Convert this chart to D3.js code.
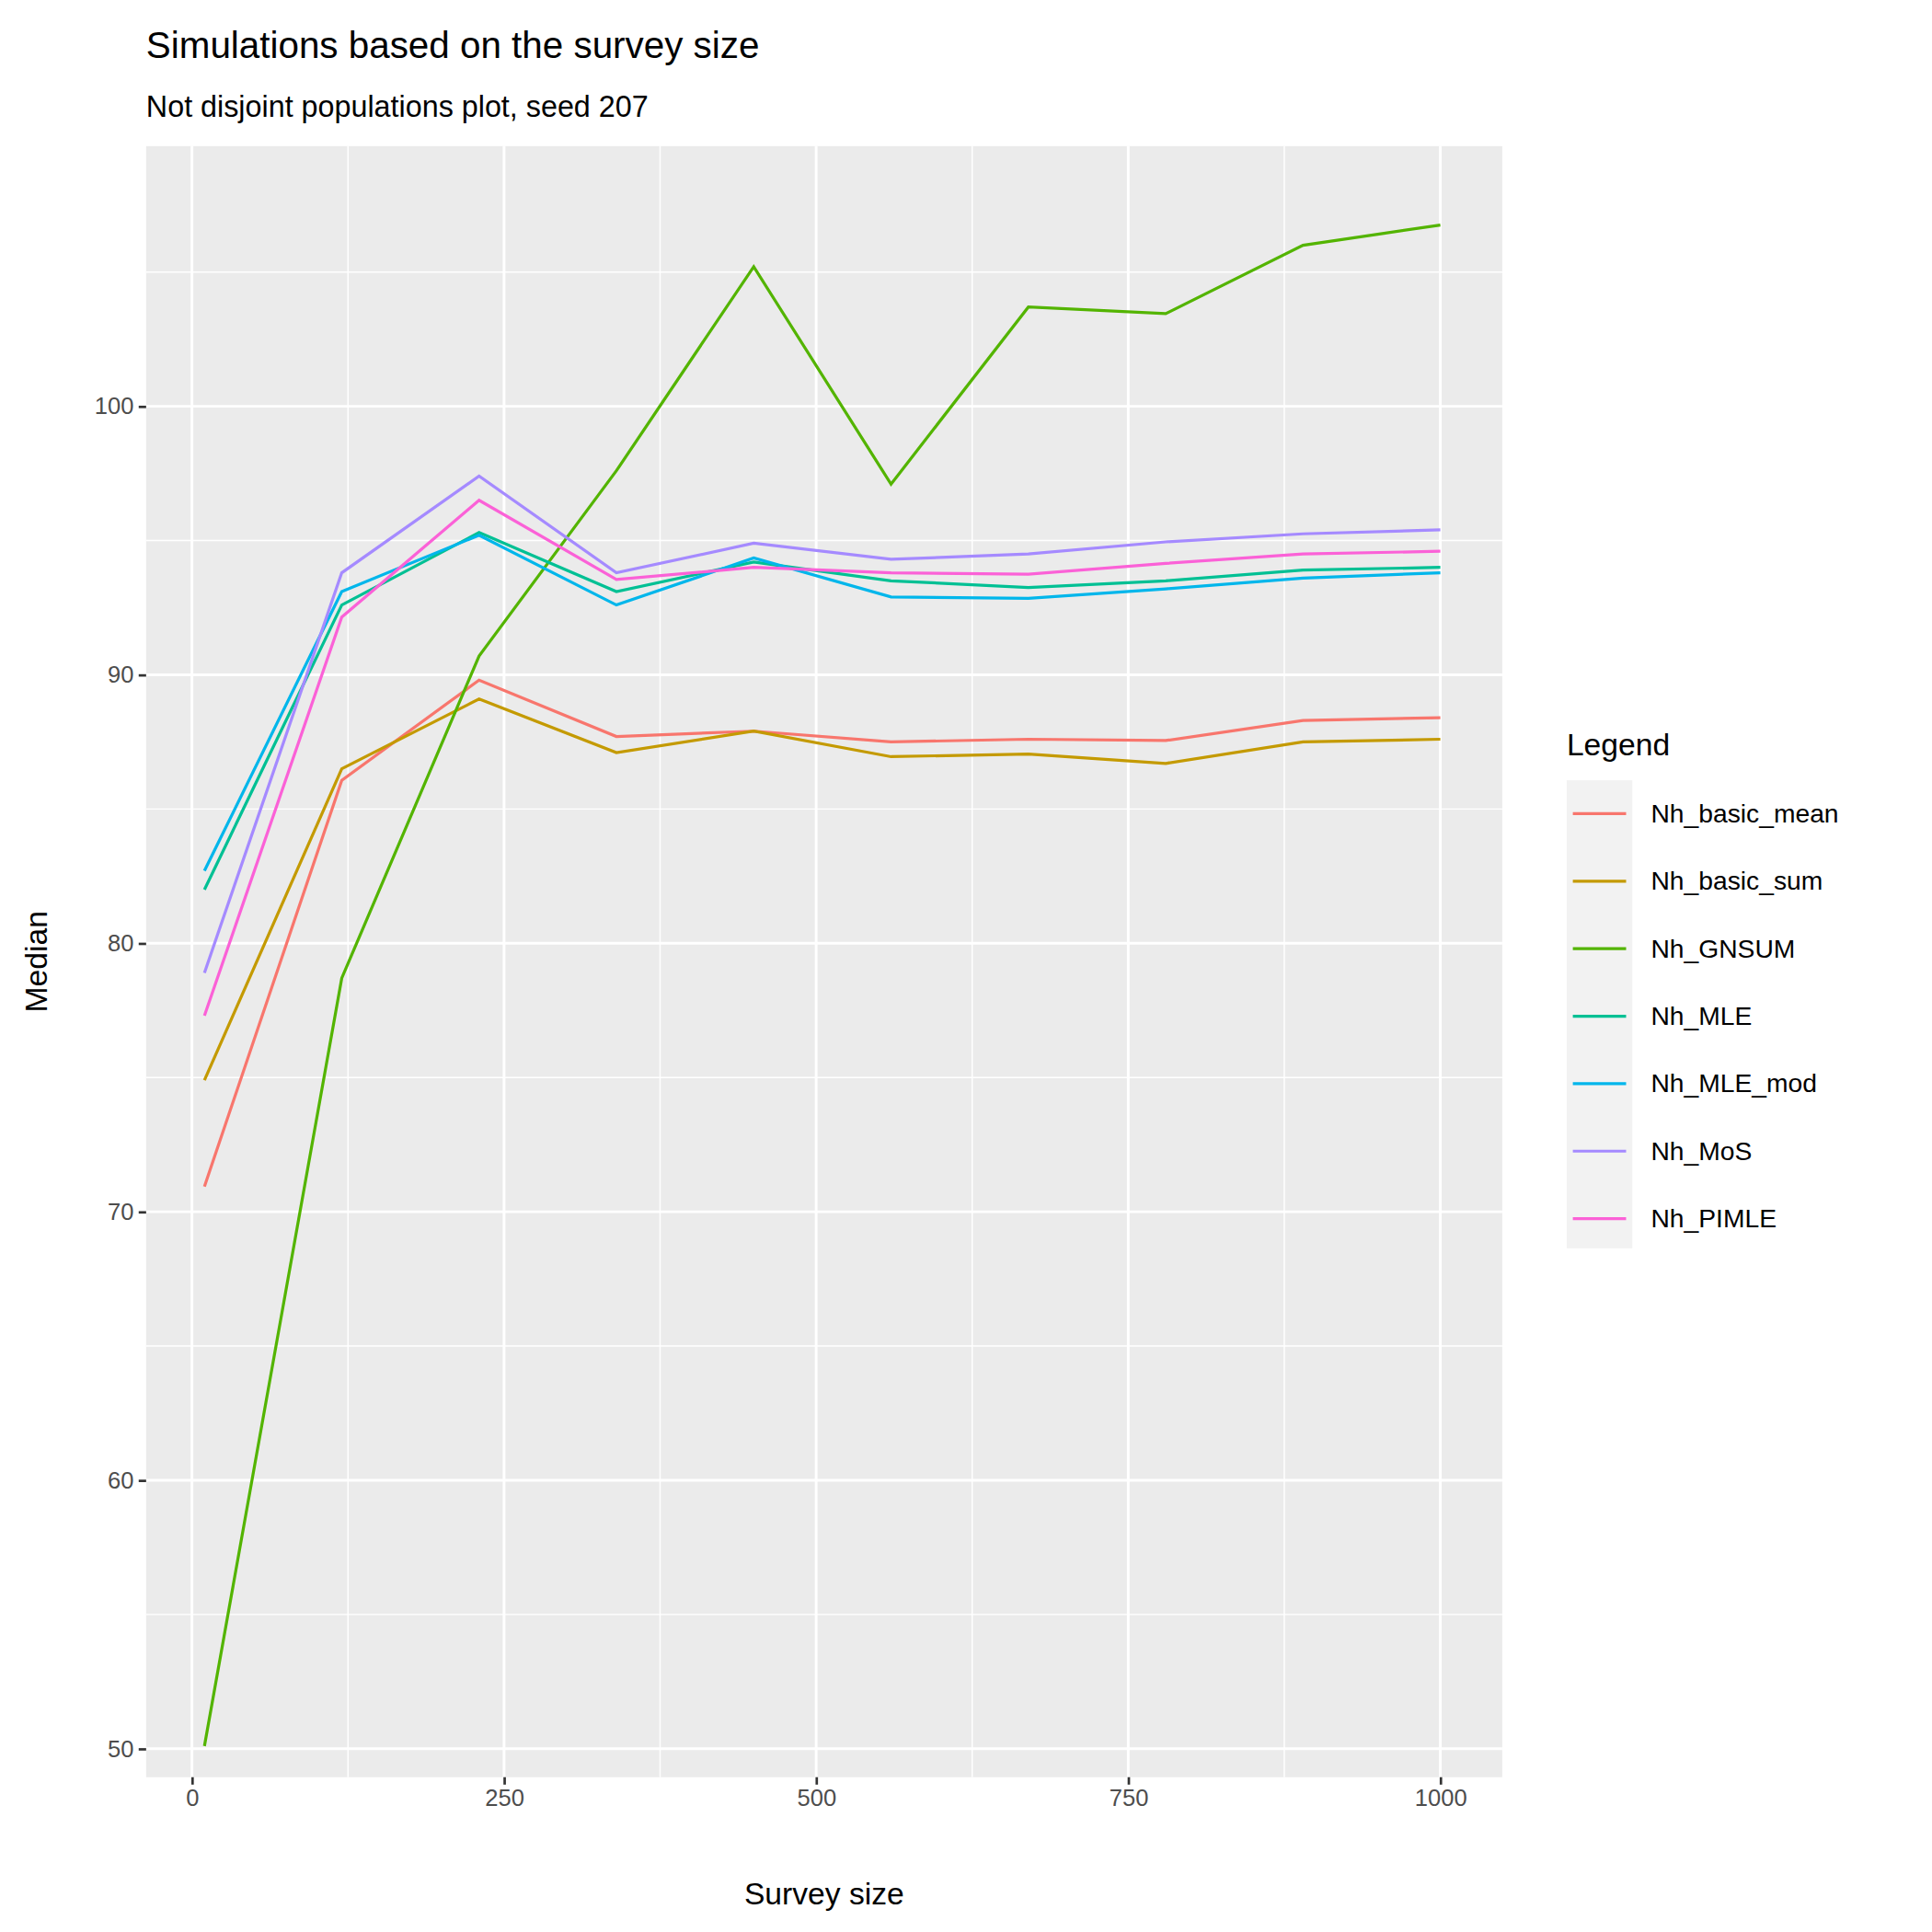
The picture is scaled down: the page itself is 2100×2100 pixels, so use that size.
<!DOCTYPE html><html><head><meta charset="utf-8"><script src="https://cdn.jsdelivr.net/npm/d3@7"></script>
<style>body{margin:0;background:#fff}text{font-family:Arial,"Liberation Sans",sans-serif}</style></head><body><script>
const surveySizes=[10,120,230,340,450,560,670,780,890,1000];
const seriesNames=["Nh_basic_mean","Nh_basic_sum","Nh_GNSUM","Nh_MLE","Nh_MLE_mod","Nh_MoS","Nh_PIMLE"];
const basicMean=[70.94,86.07,89.8,87.7,87.9,87.5,87.6,87.55,88.3,88.4];
const basicSum=[74.9,86.5,89.1,87.1,87.9,86.95,87.05,86.7,87.5,87.6];
const gnsum=[50.1,78.7,90.7,97.6,105.2,97.1,103.7,103.45,106.0,106.75];
const mle=[82.0,92.6,95.3,93.1,94.2,93.5,93.25,93.5,93.9,94.0];
const mleMod=[82.7,93.1,95.2,92.6,94.35,92.9,92.85,93.2,93.6,93.8];
const mos=[78.9,93.8,97.4,93.8,94.9,94.3,94.5,94.95,95.25,95.4];
const pimle=[77.3,92.15,96.5,93.55,94.0,93.8,93.75,94.15,94.5,94.6];
const colors=["#F8766D","#C49A00","#53B400","#00C094","#00B6EB","#A58AFF","#FB61D7"];
const allSeries=[basicMean,basicSum,gnsum,mle,mleMod,mos,pimle];
const xTicks=[0,250,500,750,1000], xMinor=[125,375,625,875];
const yTicks=[50,60,70,80,90,100], yMinor=[55,65,75,85,95,105];

const svg=d3.select("body").append("svg").attr("width",2100).attr("height",2100).attr("viewBox","0 0 1560 1560");
const L=118,R=1213,T=118,B=1435;
const x=d3.scaleLinear().domain([-36.7,1049.6]).range([L,R]);
const y=d3.scaleLinear().domain([48.94,109.69]).range([B,T]);
svg.append("rect").attr("x",L).attr("y",T).attr("width",R-L).attr("height",B-T).attr("fill","#EBEBEB");
const g=svg.append("g");
xMinor.forEach(v=>g.append("line").attr("x1",x(v)).attr("x2",x(v)).attr("y1",T).attr("y2",B).attr("stroke","#fff").attr("stroke-width",1.1));
yMinor.forEach(v=>g.append("line").attr("y1",y(v)).attr("y2",y(v)).attr("x1",L).attr("x2",R).attr("stroke","#fff").attr("stroke-width",1.1));
xTicks.forEach(v=>g.append("line").attr("x1",x(v)).attr("x2",x(v)).attr("y1",T).attr("y2",B).attr("stroke","#fff").attr("stroke-width",2.2));
yTicks.forEach(v=>g.append("line").attr("y1",y(v)).attr("y2",y(v)).attr("x1",L).attr("x2",R).attr("stroke","#fff").attr("stroke-width",2.2));
const xa=svg.append("g").attr("transform",`translate(0,${B})`).call(d3.axisBottom(x).tickValues(xTicks).tickFormat(d3.format("d")).tickSize(6).tickPadding(4));
const ya=svg.append("g").attr("transform",`translate(${L},0)`).call(d3.axisLeft(y).tickValues(yTicks).tickFormat(d3.format("d")).tickSize(6).tickPadding(4));
[xa,ya].forEach(a=>{a.select(".domain").remove();a.selectAll("line").attr("stroke","#333").attr("stroke-width",2);a.selectAll("text").attr("fill","#4D4D4D").style("font-size","19px");});
const line=d3.line().x((d,i)=>x(surveySizes[i])).y(d=>y(d));
allSeries.forEach((s,i)=>svg.append("path").attr("d",line(s)).attr("fill","none").attr("stroke",colors[i]).attr("stroke-width",2.4));
svg.append("text").attr("x",118).attr("y",47).text("Simulations based on the survey size").style("font-size","30px");
svg.append("text").attr("x",118).attr("y",94).text("Not disjoint populations plot, seed 207").style("font-size","24px");
svg.append("text").attr("x",(L+R)/2).attr("y",1538).attr("text-anchor","middle").text("Survey size").style("font-size","25px");
svg.append("text").attr("transform",`translate(38,${(T+B)/2}) rotate(-90)`).attr("text-anchor","middle").text("Median").style("font-size","25px");
svg.append("text").attr("x",1265).attr("y",610).text("Legend").style("font-size","25px");
svg.append("rect").attr("x",1265).attr("y",630).attr("width",53).attr("height",378).attr("fill","#F2F2F2");
seriesNames.forEach((n,i)=>{const yy=657+i*54.5;
 svg.append("line").attr("x1",1270).attr("x2",1313).attr("y1",yy).attr("y2",yy).attr("stroke",colors[i]).attr("stroke-width",2.4);
 svg.append("text").attr("x",1333).attr("y",yy+7).text(n).style("font-size","21px");});
</script></body></html>
